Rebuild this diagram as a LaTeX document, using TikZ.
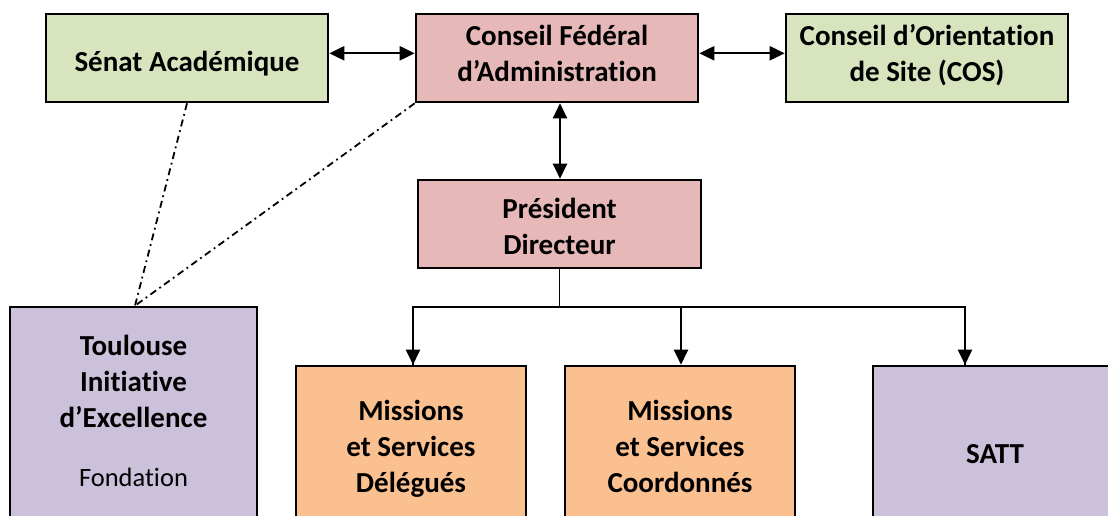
\documentclass[tikz,border=0pt]{standalone}
\usepackage{fontspec}
\setmainfont{Carlito}[RawFeature={-liga;-clig;-calt;-dlig;-rlig}]
\usetikzlibrary{arrows.meta}
\definecolor{cgreen}{HTML}{D7E4BD}
\definecolor{cpink}{HTML}{E6B9B8}
\definecolor{corange}{HTML}{FAC090}
\definecolor{cpurple}{HTML}{CCC1DA}
\def\ls{\vrule height 26pt depth 10pt width 0pt}
\begin{document}
\begin{tikzpicture}[x=1pt,y=-1pt,
  box/.style={draw=black, line width=2.6pt, rectangle, inner sep=0pt},
  txt/.style={inner sep=0pt, align=center, font=\fontsize{29}{36}\selectfont\bfseries},
  tip/.style={-{Triangle[length=15pt,width=14pt]}},
  dtip/.style={{Triangle[length=15pt,width=14pt]}-{Triangle[length=15pt,width=14pt]}},
  link/.style={line width=2.2pt},
  tree/.style={line width=1.5pt},
  dd/.style={line width=1.8pt, dash pattern=on 7pt off 4pt on 1.8pt off 4pt}
]
\useasboundingbox (0,0) rectangle (1108,515);
\clip (0,0) rectangle (1108,515);
% boxes
\node[box, fill=cgreen, minimum width=282pt, minimum height=88pt] (sa) at (187,58) {};
\node[box, fill=cpink, minimum width=282pt, minimum height=88pt] (cfa) at (557,58) {};
\node[box, fill=cgreen, minimum width=282pt, minimum height=88pt] (cos) at (927,58) {};
\node[box, fill=cpink, minimum width=283pt, minimum height=88pt] (pd) at (559.5,224) {};
\node[box, fill=cpurple, minimum width=247pt, minimum height=240pt] (tie) at (133.5,427) {};
\node[box, fill=corange, minimum width=230pt, minimum height=200pt] (msd) at (411,466) {};
\node[box, fill=corange, minimum width=230pt, minimum height=200pt] (msc) at (680,466) {};
\node[box, fill=cpurple, minimum width=244pt, minimum height=200pt] (satt) at (995,466) {};
% texts
\node[txt] (sat) at (187,63) {\ls Sénat Académique};
\node[txt] (cfat) at (557,55) {\ls Conseil Fédéral\\\ls d’Administration};
\node[txt] (cost) at (927,55) {\ls Conseil d’Orientation\\\ls de Site (COS)};
\node[txt] (pdt) at (559.5,228) {\ls Président\\\ls Directeur};
\node[txt] (tiet) at (133.5,412.5) {\ls Toulouse\\\ls Initiative\\\ls d’Excellence\\[23pt]\ls{\fontsize{26.5}{36}\selectfont\mdseries Fondation}};
\node[txt] (msdt) at (411,448) {\ls Missions\\\ls et Services\\\ls Délégués};
\node[txt] (msct) at (680,448) {\ls Missions\\\ls et Services\\\ls Coordonnés};
\node[txt] (sattt) at (995,455) {\ls SATT};
% connectors
\draw[link, dtip] ([yshift=4.7pt]sa.east) -- ([yshift=4.7pt]cfa.west);
\draw[link, dtip] ([yshift=4.7pt]cfa.east) -- ([yshift=4.7pt]cos.west);
\draw[link, dtip] (cfa.south -| 560,0) -- (pd.north -| 560,0);
\coordinate (split) at (559.5,307);
\coordinate (sattin) at (965,0);
\draw[tree] (pd.south) -- (split);
\draw[tree] (msd.north -| 413,0) |- (split);
\draw[tree] (split) -| (sattin |- msd.north);
\draw[link, tip] (413,307) -- (msd.north -| 413,0);
\draw[link, tip] (681,307) -- (msc.north -| 681,0);
\draw[link, tip] (965,307) -- (satt.north -| sattin);
\coordinate (tietop) at (135,0);
\draw[dd] (sa.south -| 187,0) -- (tie.north -| tietop);
\draw[dd] (cfa.south west) -- (tie.north -| tietop);
\end{tikzpicture}
\end{document}
